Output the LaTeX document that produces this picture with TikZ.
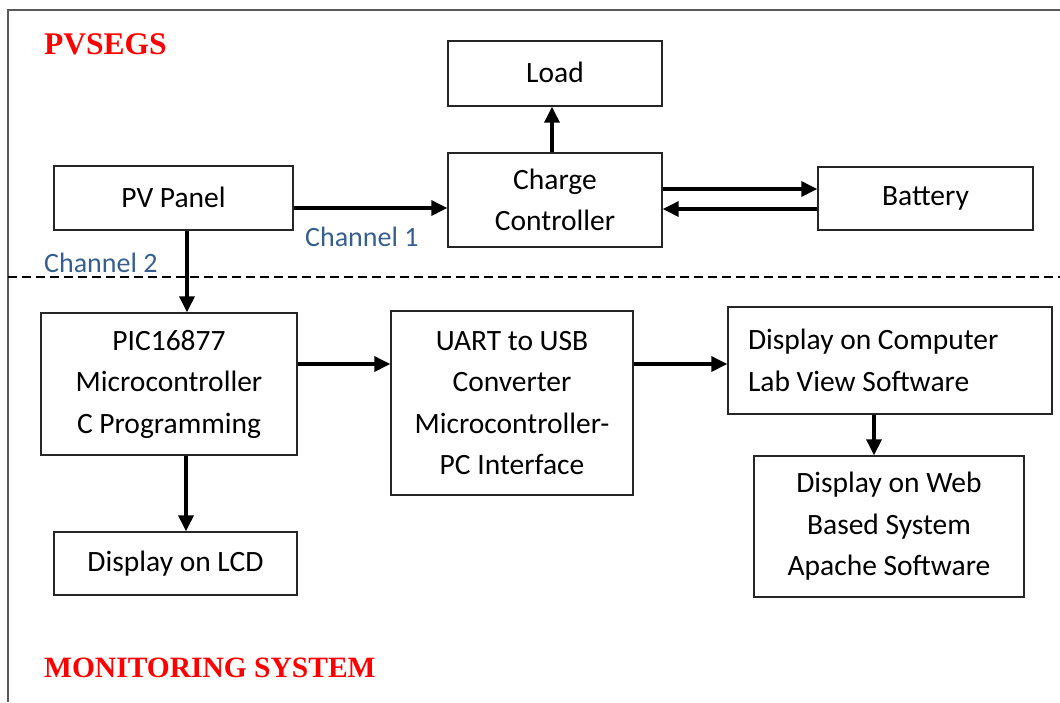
\documentclass[tikz,border=0pt]{standalone}
\usepackage{fontspec}
\setmainfont{Carlito}
\newfontfamily\headfont{Liberation Serif}
\usetikzlibrary{arrows.meta,calc}
\definecolor{headred}{RGB}{255,0,0}
\definecolor{chanblue}{RGB}{54,95,145}
\begin{document}
\begin{tikzpicture}[x=1pt,y=-1pt,
  box/.style={draw=black!85,line width=1.3pt,align=center,inner sep=0pt,
    font=\fontsize{29.5pt}{41.5pt}\selectfont},
  arr/.style={line width=3.2pt,-{Triangle[length=16pt,width=15pt]}},
  heading/.style={font=\headfont\bfseries,text=headred,anchor=base west,inner sep=0pt},
  chan/.style={font=\fontsize{28pt}{34pt}\selectfont,text=chanblue,
    anchor=base west,inner sep=0pt}]
\useasboundingbox (0,0) rectangle (1060,702);

% outer frame and section divider
\draw[black!65,line width=1.3pt] (8,702) -- (8,10) -- (1060,10);
\draw[line width=1.6pt,dash pattern=on 9pt off 5pt] (8,277) -- (1060,277);

% headings and channel labels
\node[heading,font=\headfont\bfseries\fontsize{31.5pt}{34pt}\selectfont] (h1) at (44,54) {PVSEGS};
\node[heading,font=\headfont\bfseries\fontsize{29.5pt}{34pt}\selectfont] (h2) at (44,677) {MONITORING SYSTEM};
\node[chan] (ch1) at (305,246) {Channel 1};
\node[chan] (ch2) at (44,272) {Channel 2};

% generation side
\node[box,minimum width=214pt,minimum height=65pt] (load) at (555,73.5) {\raisebox{3pt}{Load}};
\node[box,minimum width=214pt,minimum height=94pt] (charge) at (555,200) {Charge\\Controller};
\node[box,minimum width=239pt,minimum height=64pt] (pv) at (173.5,198) {\raisebox{2pt}{PV Panel}};
\node[box,minimum width=215pt,minimum height=63pt] (battery) at (925.5,198.5) {Battery};

% monitoring side
\node[box,minimum width=256pt,minimum height=142pt] (pic) at (169,384)
  {PIC16877\\Microcontroller\\C Programming};
\node[box,minimum width=242pt,minimum height=184pt] (uart) at (512,403)
  {UART to USB\\Converter\\Microcontroller-\\PC Interface};
\node[box,minimum height=107pt,text width=284pt,inner xsep=20pt,align=flush left] (comp) at (890,360.5)
  {Display on Computer\\Lab View Software};
\node[box,minimum width=270pt,minimum height=141pt] (web) at (889,526.5)
  {Display on Web\\Based System\\Apache Software};
\node[box,minimum width=243pt,minimum height=63pt] (lcd) at (175.5,563.5) {Display on LCD};

% connectors
\draw[arr] ([yshift=-10pt]pv.east) -- ([yshift=-10pt]pv.east -| charge.west);
\draw[arr] ([xshift=-3pt]charge.north) -- ([xshift=-3pt]load.south);
\draw[arr] ([yshift=9.5pt]battery.west -| charge.east) -- ([yshift=9.5pt]battery.west);
\draw[arr] ([yshift=-10.5pt]battery.west) -- ([yshift=-10.5pt]battery.west -| charge.east);
\draw[arr] ([xshift=13.5pt]pv.south) -- ([xshift=13.5pt]pv.south |- pic.north);
\draw[arr] ([xshift=17pt]pic.south) -- ([xshift=17pt]pic.south |- lcd.north);
\draw[arr] ([yshift=20pt]pic.east) -- ([yshift=20pt]pic.east -| uart.west);
\draw[arr] ([yshift=-3.5pt]comp.west -| uart.east) -- ([yshift=-3.5pt]comp.west);
\draw[arr] ([xshift=-16pt]comp.south) -- ([xshift=-16pt]comp.south |- web.north);
\end{tikzpicture}
\end{document}
